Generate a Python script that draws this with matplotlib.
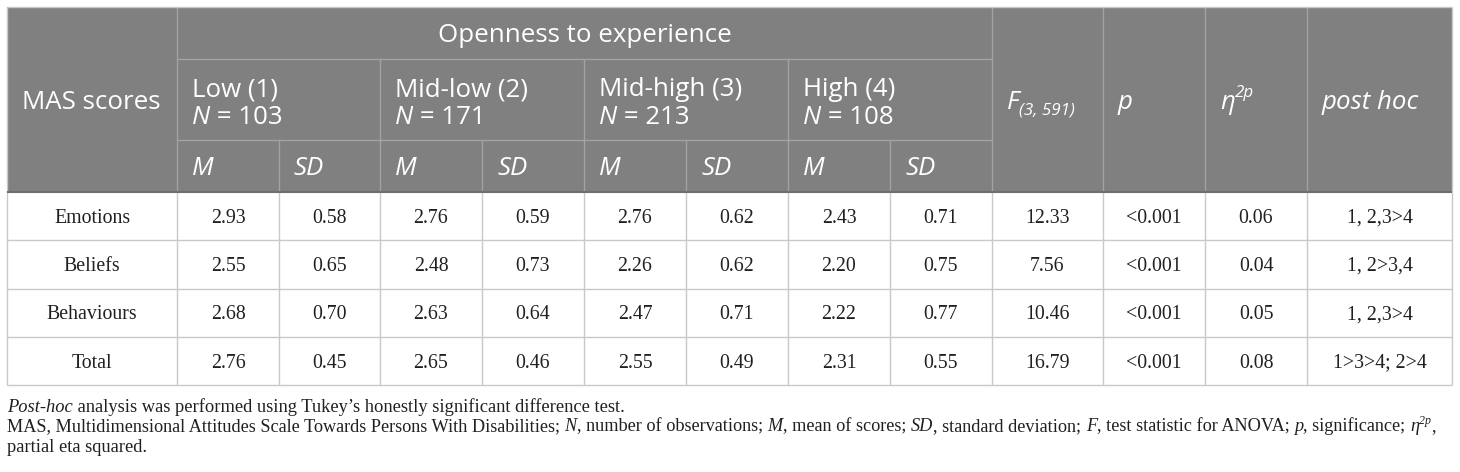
import matplotlib
matplotlib.use("Agg")
import matplotlib.pyplot as plt
from matplotlib.patches import Rectangle

# ---------------- data ----------------
group_title = "Openness to experience"
group_labels = ["Low (1)", "Mid-low (2)", "Mid-high (3)", "High (4)"]
group_n = [103, 171, 213, 108]
row_labels = ["Emotions", "Beliefs", "Behaviours", "Total"]
means = [[2.93, 2.76, 2.76, 2.43],
         [2.55, 2.48, 2.26, 2.20],
         [2.68, 2.63, 2.47, 2.22],
         [2.76, 2.65, 2.55, 2.31]]
sds = [[0.58, 0.59, 0.62, 0.71],
       [0.65, 0.73, 0.62, 0.75],
       [0.70, 0.64, 0.71, 0.77],
       [0.45, 0.46, 0.49, 0.55]]
f_values = ["12.33", "7.56", "10.46", "16.79"]
p_values = ["<0.001", "<0.001", "<0.001", "<0.001"]
eta_values = ["0.06", "0.04", "0.05", "0.08"]
post_hoc = ["1, 2,3>4", "1, 2>3,4", "1, 2,3>4", "1>3>4; 2>4"]

# ---------------- layout ----------------
W, H = 1460, 472
fig = plt.figure(figsize=(W / 100, H / 100), dpi=100)
ax = fig.add_axes([0, 0, 1, 1])
ax.set_xlim(0, W)
ax.set_ylim(H, 0)
ax.axis("off")
renderer = fig.canvas.get_renderer()

X = [7, 177, 279, 380, 482, 584, 686, 788, 890, 992, 1103, 1205, 1307, 1452]
Y_TOP, Y_H1, Y_H2, Y_HEAD = 7, 59, 140, 192
ROW_H = 48.3
Y_ROWS = [Y_HEAD + i * ROW_H for i in range(len(row_labels) + 1)]

HEAD_BG = "#7f807f"
HEAD_LINE = "#a3a3a3"
BODY_LINE = "#c9c9c9"
TXT = "#231f20"
SANS = "Open Sans"
SERIF = "Liberation Serif"
HFS = 18.6   # header font size
BFS = 14.3   # body font size
NFS = 13.3   # note font size
NFS2 = 13.15

def px(fs):
    return fs * 100 / 72.0

_space_cache = {}
def space_w(kw):
    key = tuple(sorted(kw.items()))
    if key not in _space_cache:
        a = ax.text(0, 0, "x x", **kw); b = ax.text(0, 0, "xx", **kw)
        w = a.get_window_extent(renderer).width - b.get_window_extent(renderer).width
        a.remove(); b.remove()
        _space_cache[key] = w
    return _space_cache[key]

def runs(x, y, parts, ha="left"):
    """Draw text runs; y is the baseline. parts: (string, kwargs, dy)."""
    texts = []
    cx = x
    for s, kw, dy in parts:
        core = s.rstrip(" ")
        ntrail = len(s) - len(core)
        t = ax.text(cx, y + dy, core, va="baseline", ha="left", **kw)
        cx += t.get_window_extent(renderer).width + ntrail * space_w(kw)
        texts.append(t)
    if ha == "center":
        shift = -(cx - x) / 2
        for t in texts:
            px0, py0 = t.get_position()
            t.set_position((px0 + shift, py0))
    return cx

# header background
ax.add_patch(Rectangle((X[0], Y_TOP), X[-1] - X[0], Y_HEAD - Y_TOP,
                       facecolor=HEAD_BG, edgecolor="none", zorder=0))

def hline(x0, x1, y, c, lw=1.0):
    ax.plot([x0, x1], [y, y], color=c, lw=lw, solid_capstyle="butt", zorder=2)

def vline(x, y0, y1, c, lw=1.0):
    ax.plot([x, x], [y0, y1], color=c, lw=lw, solid_capstyle="butt", zorder=2)

# header grid lines
hline(X[1], X[9], Y_H1, HEAD_LINE)
hline(X[1], X[9], Y_H2, HEAD_LINE)
for i in [1, 9, 10, 11, 12]:
    vline(X[i], Y_TOP, Y_HEAD, HEAD_LINE)
for i in [3, 5, 7]:
    vline(X[i], Y_H1, Y_HEAD, HEAD_LINE)
for i in [2, 4, 6, 8]:
    vline(X[i], Y_H2, Y_HEAD, HEAD_LINE)

# body grid lines
for y in Y_ROWS[1:]:
    hline(X[0], X[-1], y, BODY_LINE)
for x in X:
    vline(x, Y_HEAD, Y_ROWS[-1], BODY_LINE)
vline(X[0], Y_TOP, Y_HEAD, BODY_LINE)
vline(X[-1], Y_TOP, Y_HEAD, BODY_LINE)
hline(X[0], X[-1], Y_TOP, BODY_LINE)
hline(X[0], X[-1], Y_HEAD, "#6e6e6e", lw=1.5)

# header text
hn = dict(family=SANS, size=HFS, color="white")
hi = dict(family=SANS, size=HFS, color="white", style="italic")
hsub = dict(family=SANS, size=HFS * 0.66, color="white", style="italic")
cap = px(HFS) * 0.36
PAD = 15

runs((X[1] + X[9]) / 2, (Y_TOP + Y_H1) / 2 + cap, [(group_title, hn, 0)], ha="center")
runs(X[0] + PAD, (Y_TOP + Y_HEAD) / 2 + cap, [("MAS scores", hn, 0)])
for g, (lab, n) in enumerate(zip(group_labels, group_n)):
    x0 = X[1 + 2 * g] + PAD
    runs(x0, 87 + cap, [(lab, hn, 0)])
    runs(x0, 115 + cap, [("N", hi, 0), (" = %d" % n, hn, 0)])
    runs(x0, (Y_H2 + Y_HEAD) / 2 + cap, [("M", hi, 0)])
    runs(X[2 + 2 * g] + PAD, (Y_H2 + Y_HEAD) / 2 + cap, [("SD", hi, 0)])
ymid = (Y_TOP + Y_HEAD) / 2 + cap
runs(X[9] + PAD, ymid, [("F", hi, 0), ("(3, 591)", hsub, 6)])
runs(X[10] + PAD, ymid, [("p", hi, 0)])
runs(X[11] + PAD, ymid, [("\u03b7", hi, 0), ("2p", hsub, -12)])
runs(X[12] + PAD, ymid, [("post hoc", hi, 0)])

# body text
bn = dict(family=SERIF, size=BFS, color=TXT)
bcap = px(BFS) * 0.33
for r, lab in enumerate(row_labels):
    yb = (Y_ROWS[r] + Y_ROWS[r + 1]) / 2 + bcap
    cells = [lab]
    for g in range(4):
        cells += ["%.2f" % means[r][g], "%.2f" % sds[r][g]]
    cells += [f_values[r], p_values[r], eta_values[r], post_hoc[r]]
    for c, s in enumerate(cells):
        runs((X[c] + X[c + 1]) / 2, yb, [(s, bn, 0)], ha="center")

# notes
nn = dict(family=SERIF, size=NFS, color=TXT)
ni = dict(family=SERIF, size=NFS, color=TXT, style="italic")
nn2 = dict(family=SERIF, size=NFS2, color=TXT)
ni2 = dict(family=SERIF, size=NFS2, color=TXT, style="italic")
nsup = dict(family=SERIF, size=NFS2 * 0.65, color=TXT, style="italic")
ncap = px(NFS) * 0.33
runs(X[0], 406 + ncap, [("Post-hoc", ni, 0),
                        (" analysis was performed using Tukey\u2019s honestly significant difference test.", nn, 0)])
runs(X[0], 425 + ncap, [
    ("MAS, Multidimensional Attitudes Scale Towards Persons With Disabilities; ", nn2, 0),
    ("N", ni2, 0), (", number of observations; ", nn2, 0),
    ("M", ni2, 0), (", mean of scores; ", nn2, 0),
    ("SD", ni2, 0), (", standard deviation; ", nn2, 0),
    ("F", ni2, 0), (", test statistic for ANOVA; ", nn2, 0),
    ("p", ni2, 0), (", significance; ", nn2, 0),
    ("\u03b7", ni2, 0), ("2p", nsup, -7), (",", nn2, 0)])
runs(X[0], 446 + ncap, [("partial eta squared.", nn, 0)])

fig.savefig("out.png", dpi=100, facecolor="white")
